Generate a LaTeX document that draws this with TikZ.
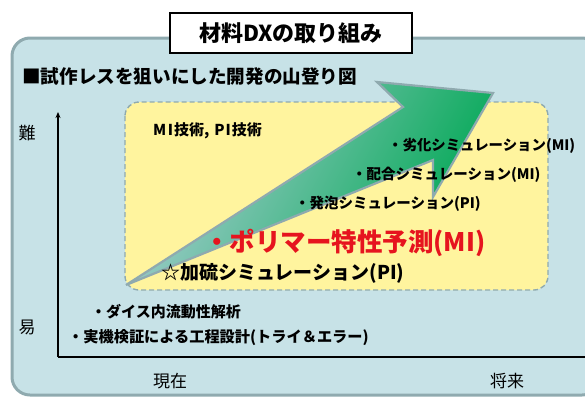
\documentclass[tikz,border=0pt]{standalone}
\usepackage{fontspec}
\setmainfont{Noto Sans CJK JP}
\usetikzlibrary{arrows.meta}
\definecolor{panelbg}{RGB}{199,226,231}
\definecolor{panelbd}{RGB}{143,170,175}
\definecolor{yelbg}{RGB}{255,244,158}
\definecolor{arrgreen}{RGB}{0,168,84}
\definecolor{arrtail}{RGB}{172,206,212}
\definecolor{redtxt}{RGB}{230,20,30}
\tikzset{
  txt/.style={anchor=west, inner sep=0pt, font=\bfseries\fontsize{#1}{#1}\selectfont},
  lbl/.style={inner sep=0pt, font=\fontsize{17}{17}\selectfont},
}
\begin{document}
\begin{tikzpicture}[x=1pt,y=-1pt]
\useasboundingbox (0,0) rectangle (585,397);
% panel
\draw[panelbd, line width=3pt, fill=panelbg, rounded corners=18pt] (12,38) rectangle (600,395);
% title
\node[draw=black, line width=1.2pt, fill=white, minimum width=242pt, minimum height=40pt, inner sep=0pt,
  font=\bfseries\fontsize{22}{22}\selectfont] (title) at (291,33) {材料DXの取り組み};
% subtitle
\node[txt=18.6] (sub) at (22,76) {■試作レスを狙いにした開発の山登り図};
% yellow box
\draw[panelbd, line width=1.4pt, dashed, dash pattern=on 5pt off 3pt, fill=yelbg, rounded corners=14pt] (125,102) rectangle (548,290);
% axes
\coordinate (o) at (58,357);
\coordinate (ytop) at (58,112);
\coordinate (xend) at (586,357);
\draw[line width=1.4pt, -{Stealth[length=6pt,width=5pt]}] (o) -- (ytop);
\draw[line width=1.4pt] (o) -- (xend);
% axis labels
\node[lbl] (hard) at (27,133) {難};
\node[lbl] (easy) at (27,327) {易};
\node[lbl] (now) at (170,381) {現在};
\node[lbl] (future) at (507,381) {将来};
% big arrow
\shade[left color=arrtail, right color=arrgreen, shading angle=62]
  (126,285) -- (403,107) -- (377,82) -- (493,93) -- (433,197) -- (433,160) -- cycle;
\draw[panelbd, line width=2.2pt, line join=miter]
  (126,285) -- (403,107) -- (377,82) -- (493,93) -- (433,197) -- (433,160) -- cycle;
% texts
\node[txt=15] (mipi) at (153,131) {M\kern1.5pt I\kern1pt 技術,\hspace{5pt}P\kern1pt I\kern1pt 技術};
\node[txt=14.4] (rekka) at (388,146) {・劣化シミュレーション(MI)};
\node[txt=14.5] (haigo) at (352,175) {・配合シミュレーション(MI)};
\node[txt=14.5] (happo) at (295,204) {・発泡シミュレーション(PI)};
\node[txt=25.5, text=redtxt] (poly) at (204,243) {・ポリマー特性予測(MI)};
\node[txt=19] (kary) at (161,273) {☆加硫シミュレーション(PI)};
\node[txt=15] (dies) at (91,312) {・ダイス内流動性解析};
\node[txt=15.2] (jikki) at (68,338) {・実機検証による工程設計(トライ＆エラー)};
\end{tikzpicture}
\end{document}
